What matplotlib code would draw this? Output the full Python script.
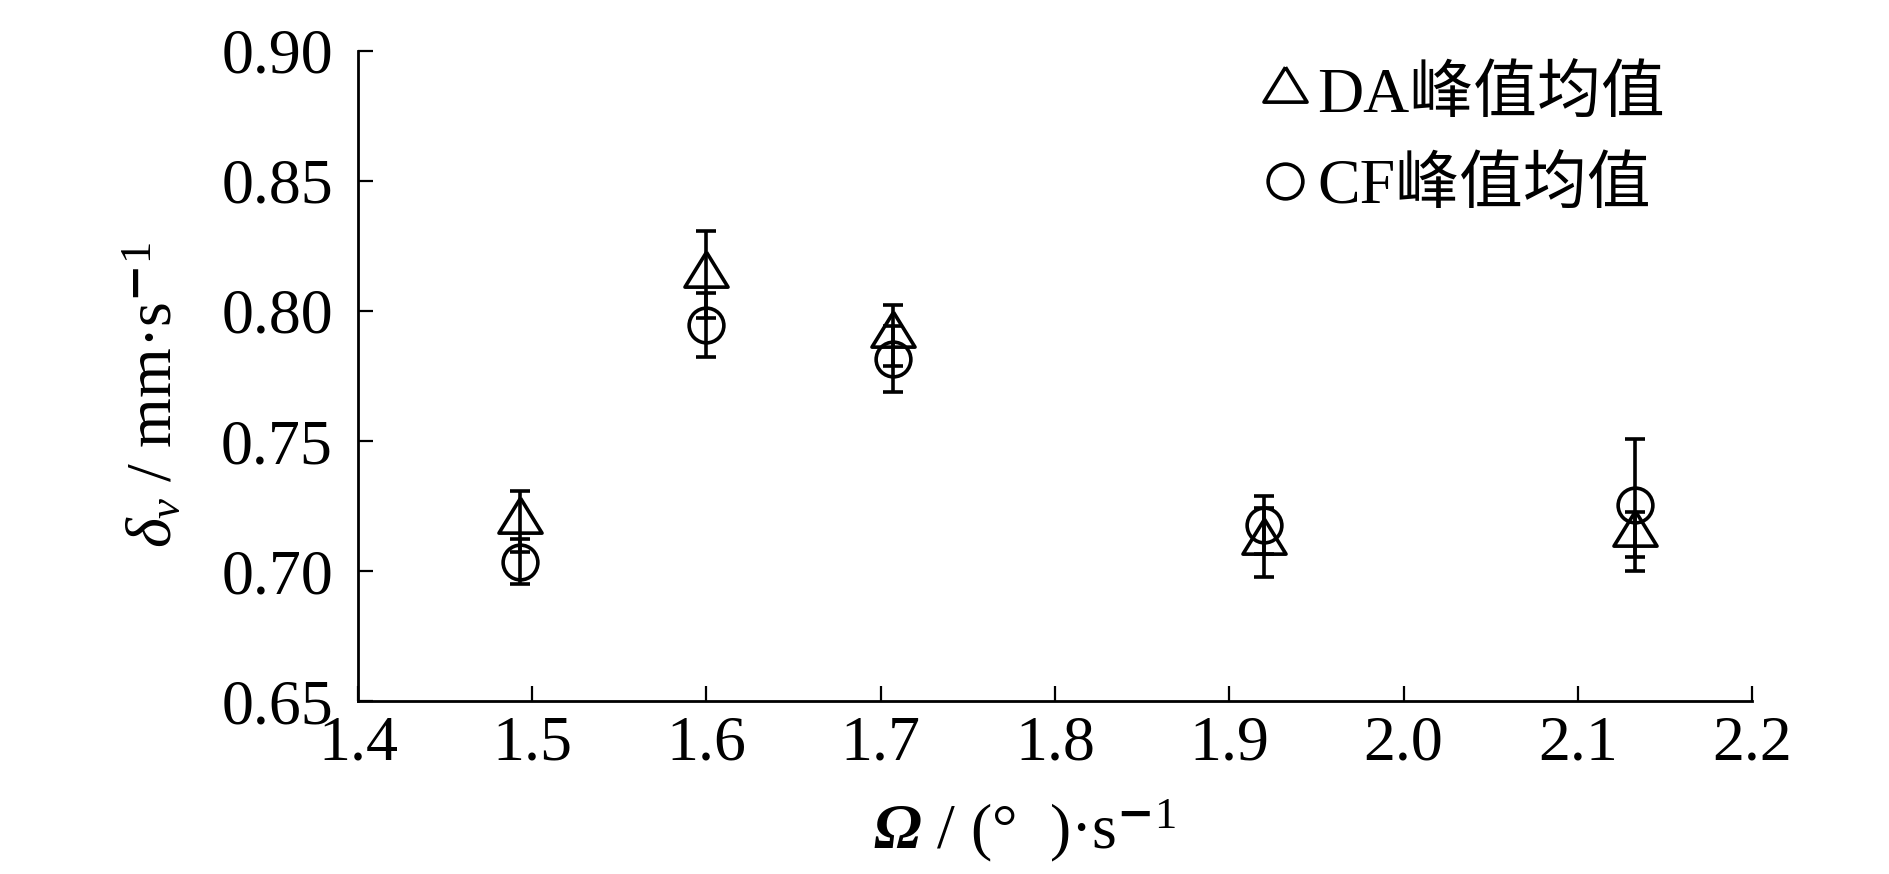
import matplotlib.pyplot as plt
import numpy as np

plt.rcParams['font.family'] = ['Liberation Serif', 'Noto Sans CJK SC']
plt.rcParams['mathtext.fontset'] = 'custom'
plt.rcParams['mathtext.rm'] = 'Liberation Serif'
plt.rcParams['mathtext.it'] = 'Liberation Serif:italic'
plt.rcParams['mathtext.sf'] = 'Liberation Serif:italic:bold'

omega = np.array([1.493, 1.600, 1.707, 1.920, 2.133])
da_mean = np.array([0.7192, 0.8140, 0.7906, 0.7111, 0.7142])
da_err = np.array([0.0117, 0.0167, 0.0117, 0.0134, 0.0086])
cf_mean = np.array([0.7037, 0.7945, 0.7816, 0.7178, 0.7255])
cf_err = np.array([0.0086, 0.0123, 0.0126, 0.0113, 0.0254])

labels = ['DA峰值均值', 'CF峰值均值']
xticks = [1.4, 1.5, 1.6, 1.7, 1.8, 1.9, 2.0, 2.1, 2.2]
yticks = [0.65, 0.70, 0.75, 0.80, 0.85, 0.90]

# triangle with its centroid at the data point
tri = [(0, 1.08), (-1, -0.54), (1, -0.54), (0, 1.08)]

fig = plt.figure(figsize=(18.9, 8.74), dpi=100)
ax = fig.add_axes([0.1894, 0.1974, 0.7376, 0.7447])

lw = 2.6
ax.errorbar(omega, da_mean, yerr=da_err, fmt='none', ecolor='k', elinewidth=lw,
            capsize=7.5, capthick=lw)
ax.errorbar(omega, cf_mean, yerr=cf_err, fmt='none', ecolor='k', elinewidth=lw,
            capsize=7.5, capthick=lw)
h1, = ax.plot(omega, da_mean, linestyle='none', marker=tri, ms=33.5, mfc='none',
              mec='k', mew=lw)
h2, = ax.plot(omega, cf_mean, linestyle='none', marker='o', ms=25, mfc='none',
              mec='k', mew=lw)

ax.set_xlim(1.4, 2.2)
ax.set_ylim(0.65, 0.90)
ax.set_xticks(xticks)
ax.set_xticklabels([f'{t:.1f}' for t in xticks])
ax.set_yticks(yticks)
ax.set_yticklabels([f'{t:.2f}' for t in yticks])
ax.tick_params(direction='in', length=11, width=1.6, labelsize=46)
ax.tick_params(axis='y', pad=18)
ax.tick_params(axis='x', pad=10)
for s in ['top', 'right']:
    ax.spines[s].set_visible(False)
for s in ['left', 'bottom']:
    ax.spines[s].set_linewidth(2.0)

ax.set_ylabel(r'$\delta_v$ / mm·s$^{\mathbf{-}1}$', fontsize=46)
ax.yaxis.set_label_coords(-0.124, 0.47)
ax.set_xlabel(r'$\mathsf{Ω}$ / (°  )·s$^{\mathbf{-}1}$', fontsize=46)
ax.xaxis.set_label_coords(0.478, -0.147)

ax.legend([h1, h2], labels, loc='upper left', bbox_to_anchor=(0.617, 1.043),
          frameon=False, fontsize=46, handlelength=0.7, handletextpad=0.15,
          labelspacing=0.5, borderpad=0.2, markerscale=1.0)

fig.savefig('out.png', dpi=100)
